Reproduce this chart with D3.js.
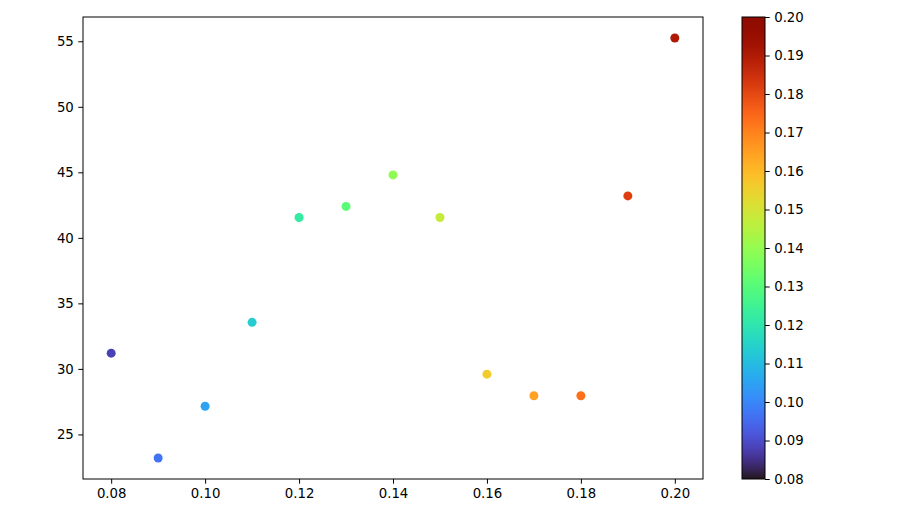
<!DOCTYPE html>
<html>
<head>
<meta charset="utf-8">
<script src="https://cdn.jsdelivr.net/npm/d3@7"></script>
<style>
  body { margin: 0; background: #fff; }
  svg { display: block; }
  .tick text { font-family: "DejaVu Sans", sans-serif; font-size: 13.3px; fill: #000; }
</style>
</head>
<body>
<div id="chart"></div>
<script>
// data
const xs = [0.08, 0.09, 0.10, 0.11, 0.12, 0.13, 0.14, 0.15, 0.16, 0.17, 0.18, 0.19, 0.20]
const ys = [31.2, 23.2, 27.15, 33.55, 41.55, 42.4, 44.8, 41.55, 29.6, 27.95, 27.95, 43.2, 55.25]
const x_ticks = [0.08, 0.10, 0.12, 0.14, 0.16, 0.18, 0.20]
const y_ticks = [25, 30, 35, 40, 45, 50, 55]
const cbar_ticks = [0.08, 0.09, 0.10, 0.11, 0.12, 0.13, 0.14, 0.15, 0.16, 0.17, 0.18, 0.19, 0.20]

const width = 897, height = 522
const plot = {left: 83, right: 703, top: 17, bottom: 479}
const cbar = {left: 742, right: 765}

const svg = d3.select("#chart").append("svg")
    .attr("width", width)
    .attr("height", height)

// matplotlib-like 5% margins
const xpad = (d3.max(xs) - d3.min(xs)) * 0.05
const ypad = (d3.max(ys) - d3.min(ys)) * 0.05
const x = d3.scaleLinear()
    .domain([d3.min(xs) - xpad, d3.max(xs) + xpad])
    .range([plot.left, plot.right])
const y = d3.scaleLinear()
    .domain([d3.min(ys) - ypad, d3.max(ys) + ypad])
    .range([plot.bottom, plot.top])

// point colours sit a little inside the turbo ends
const point_color = d3.scaleSequential(d3.interpolateTurbo).domain([0.0705, 0.2115])

svg.append("g")
    .attr("transform", `translate(0,${plot.bottom})`)
    .call(d3.axisBottom(x).tickValues(x_ticks).tickFormat(d3.format(".2f")).tickSize(4.7).tickPadding(4.5))
    .call(g => g.select(".domain").remove())

svg.append("g")
    .attr("transform", `translate(${plot.left},0)`)
    .call(d3.axisLeft(y).tickValues(y_ticks).tickSize(4.7).tickPadding(4.5))
    .call(g => g.select(".domain").remove())

svg.append("rect")
    .attr("x", plot.left).attr("y", plot.top)
    .attr("width", plot.right - plot.left).attr("height", plot.bottom - plot.top)
    .attr("fill", "none").attr("stroke", "#000").attr("stroke-width", 1)

svg.append("g").selectAll("circle")
    .data(xs.map((d, i) => [d, ys[i]]))
    .join("circle")
    .attr("cx", d => x(d[0]))
    .attr("cy", d => y(d[1]))
    .attr("r", 4.5)
    .attr("fill", d => point_color(d[0]))

// Colorbar
const c = d3.scaleLinear().domain([0.08, 0.20]).range([plot.bottom, plot.top])
const defs = svg.append("defs")
const grad = defs.append("linearGradient")
    .attr("id", "turbo")
    .attr("x1", 0).attr("y1", 1).attr("x2", 0).attr("y2", 0)
grad.selectAll("stop")
    .data(d3.range(0, 1.0001, 0.02))
    .join("stop")
    .attr("offset", d => d)
    .attr("stop-color", d => d3.interpolateTurbo(d))

svg.append("rect")
    .attr("x", cbar.left).attr("y", plot.top)
    .attr("width", cbar.right - cbar.left).attr("height", plot.bottom - plot.top)
    .attr("fill", "url(#turbo)")
    .attr("stroke", "#000").attr("stroke-width", 1)

svg.append("g")
    .attr("transform", `translate(${cbar.right},0)`)
    .call(d3.axisRight(c).tickValues(cbar_ticks).tickFormat(d3.format(".2f")).tickSize(4.7).tickPadding(4.5))
    .call(g => g.select(".domain").remove())
</script>
</body>
</html>
